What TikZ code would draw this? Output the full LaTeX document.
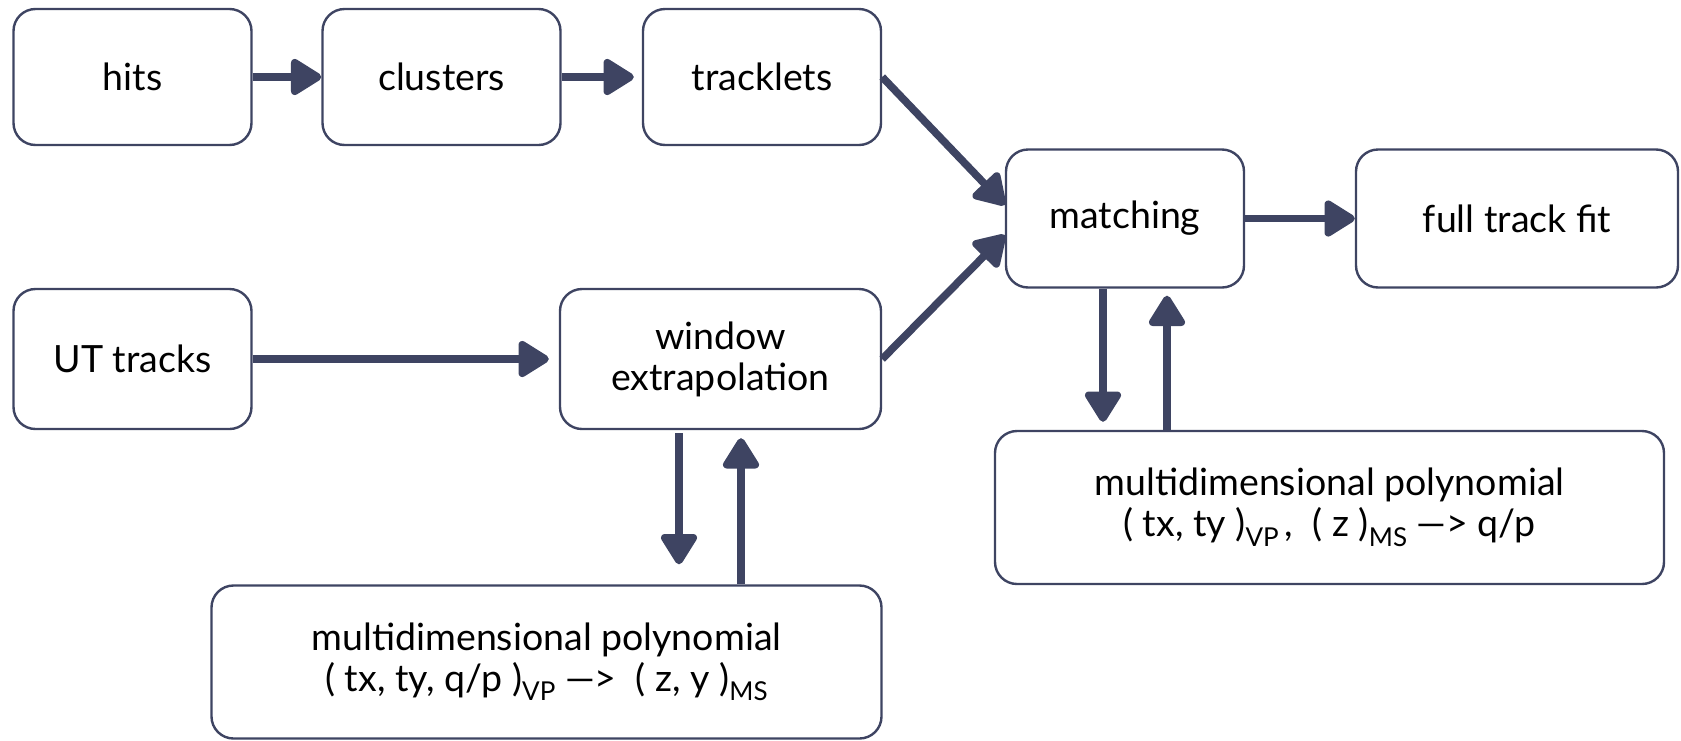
\documentclass[tikz,border=0pt]{standalone}
\usepackage{fontspec}
\setmainfont{Lato}
\usetikzlibrary{arrows.meta,calc}
\definecolor{navy}{RGB}{62,68,98}
\newcommand{\lsub}[1]{\raisebox{-0.5ex}{\fontsize{13}{13}\selectfont #1}}
\begin{document}
\begin{tikzpicture}[x=0.5pt,y=-0.5pt,
  box/.style={draw=navy,line width=1.2pt,rounded corners=11pt,align=center,
    font=\fontsize{18.75}{20.5}\selectfont,inner sep=0pt},
  arr/.style={draw=navy,line width=3.8pt,-{Triangle[length=17pt,width=20pt,round]}}]
\useasboundingbox (0,0) rectangle (1681,740);
\node[box,minimum width=119pt,minimum height=68pt] (hits) at (132.5,77) {hits};
\node[box,minimum width=119pt,minimum height=68pt] (clusters) at (441.5,77) {clusters};
\node[box,minimum width=119pt,minimum height=68pt] (tracklets) at (762,77) {tracklets};
\node[box,minimum width=119pt,minimum height=69pt] (matching) at (1125,218.5) {matching};
\node[box,minimum width=161pt,minimum height=69pt] (full) at (1517,218.5) {full track fit};
\node[box,minimum width=119pt,minimum height=70pt] (ut) at (132.5,359) {UT tracks};
\node[box,minimum width=160.5pt,minimum height=70pt] (window) at (720.5,359) {window\\extrapolation};
\node[box,minimum width=335pt,minimum height=76.5pt] (poly1) at (546.5,662) {multidimensional polynomial\\( tx, ty, q/p )\lsub{VP} —>\ \ ( z, y )\lsub{MS}};
\node[box,minimum width=334.5pt,minimum height=76.5pt] (poly2) at (1329.5,507.5) {multidimensional polynomial\\( tx, ty )\lsub{VP}\,,\ \ ( z )\lsub{MS} —> q/p};
\draw[arr] (hits.east) -- (clusters.west);
\draw[arr,shorten >=4pt] (clusters.east) -- (tracklets.west);
\draw[arr,shorten >=5pt] (ut.east) -- (window.west);
\draw[arr] (tracklets.east) -- ([yshift=6.75pt]matching.west);
\draw[arr] (window.east) -- ([yshift=-8.25pt]matching.west);
\draw[arr] (matching.east) -- (full.west);
\coordinate (m1) at ([xshift=-11pt]matching.south);
\coordinate (m2) at ([xshift=21pt]matching.south);
\draw[arr,shorten >=4pt] (m1) -- (m1 |- poly2.north);
\draw[arr,shorten >=3.5pt] (m2 |- poly2.north) -- (m2);
\coordinate (w1) at ([xshift=-20.75pt]window.south);
\coordinate (w2) at ([xshift=10.25pt]window.south);
\draw[arr,shorten <=1.5pt,shorten >=10pt] (w1) -- (w1 |- poly1.north);
\draw[arr,shorten >=4pt] (w2 |- poly1.north) -- (w2);
\end{tikzpicture}
\end{document}
